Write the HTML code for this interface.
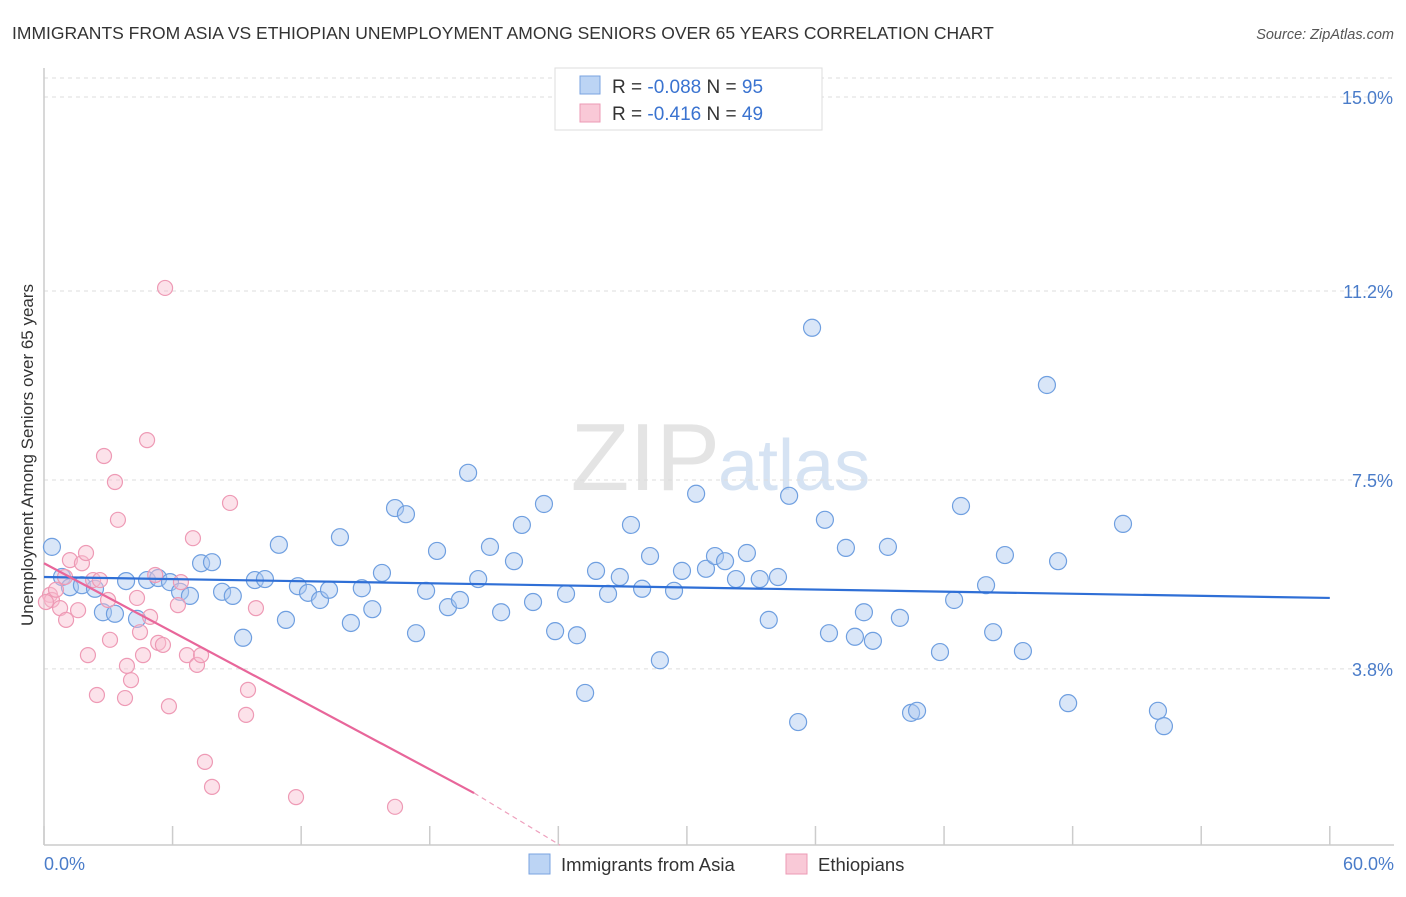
<!DOCTYPE html>
<html><head><meta charset="utf-8"><style>
body{margin:0;background:#fff;font-family:"Liberation Sans",sans-serif;}
svg text{font-family:"Liberation Sans",sans-serif;}
</style></head><body>
<svg id="chart" width="1406" height="892" viewBox="0 0 1406 892">
<text x="12" y="39" font-size="17.5" fill="#333">IMMIGRANTS FROM ASIA VS ETHIOPIAN UNEMPLOYMENT AMONG SENIORS OVER 65 YEARS CORRELATION CHART</text>
<text x="1394" y="39" font-size="14.5" fill="#555" font-style="italic" text-anchor="end">Source: ZipAtlas.com</text>
<text x="720" y="490" font-size="96" fill="#e4e4e4" text-anchor="end" font-family="Liberation Serif">ZIP</text>
<text x="718" y="490" font-size="72" fill="#d6e3f3">atlas</text>
<g id="grid"></g><g id="axes"></g><g id="pts"></g><g id="trend"></g>
<text transform="translate(33,455) rotate(-90)" font-size="17" fill="#333" text-anchor="middle">Unemployment Among Seniors over 65 years</text>
<text x="44" y="870" font-size="18" fill="#4a7cc9">0.0%</text>
<text x="1394" y="870" font-size="18" fill="#4a7cc9" text-anchor="end">60.0%</text>
<g>
<rect x="555" y="68" width="267" height="62" fill="#fff" stroke="#ddd"/>
<rect x="580" y="76" width="20" height="18" fill="#bcd4f4" stroke="#7aa3e0"/>
<rect x="580" y="104" width="20" height="18" fill="#f9c9d7" stroke="#ec9ab4"/>
<text x="612" y="93" font-size="19" fill="#333">R = <tspan fill="#3a73d0">-0.088</tspan>   N = <tspan fill="#3a73d0">95</tspan></text>
<text x="612" y="120" font-size="19" fill="#333">R =  <tspan fill="#3a73d0">-0.416</tspan>   N = <tspan fill="#3a73d0">49</tspan></text>
</g>
<g>
<rect x="529" y="854" width="21" height="20" fill="#bcd4f4" stroke="#7aa3e0"/>
<text x="561" y="871" font-size="18.5" fill="#333">Immigrants from Asia</text>
<rect x="786" y="854" width="21" height="20" fill="#f9c9d7" stroke="#ec9ab4"/>
<text x="818" y="871" font-size="18.5" fill="#333">Ethiopians</text>
</g>
</svg>
<script>
const yTicks=[15.0,11.2,7.5,3.8];
const yTickLabels=["15.0%","11.2%","7.5%","3.8%"];
const xTicks=[0,6,12,18,24,30,36,42,48,54,60];
const asiaX=[0.37,0.84,1.21,1.77,2.38,2.75,3.31,3.83,4.34,4.81,5.33,5.88,6.35,6.81,7.33,7.84,8.31,8.81,9.29,9.84,10.31,10.96,11.29,11.85,12.32,12.88,13.30,13.81,14.32,14.83,15.32,15.77,16.38,16.89,17.36,17.83,18.34,18.85,19.41,19.79,20.26,20.81,21.33,21.93,22.30,22.82,23.33,23.85,24.36,24.87,25.25,25.76,26.32,26.87,27.39,27.91,28.28,28.74,29.40,29.77,30.43,30.89,31.31,31.78,32.29,32.80,33.40,33.82,34.25,34.77,35.19,35.84,36.44,36.63,37.42,37.84,38.26,38.68,39.38,39.94,40.46,40.74,41.81,42.47,42.79,43.96,44.29,44.84,45.68,46.80,47.32,47.79,50.35,51.98,52.26];
const asiaY=[6.19,5.60,5.40,5.44,5.37,4.91,4.88,5.52,4.78,5.54,5.58,5.50,5.31,5.23,5.87,5.89,5.31,5.23,4.41,5.54,5.56,6.23,4.76,5.42,5.29,5.15,5.35,6.38,4.70,5.38,4.97,5.68,6.95,6.83,4.50,5.33,6.11,5.01,5.15,7.64,5.56,6.19,4.91,5.91,6.62,5.11,7.03,4.54,5.27,4.46,3.33,5.72,5.27,5.60,6.62,5.37,6.01,3.97,5.33,5.72,7.23,5.76,6.01,5.91,5.56,6.07,5.56,4.76,5.60,7.19,2.76,10.48,6.72,4.50,6.17,4.43,4.91,4.35,6.19,4.80,2.94,2.98,4.13,5.15,6.99,5.44,4.52,6.03,4.15,9.36,5.91,3.13,6.64,2.98,2.68];
const ethX=[0.28,0.37,0.56,0.75,0.98,1.21,1.03,1.59,1.77,1.96,2.05,2.29,2.47,2.80,2.99,3.08,3.31,3.45,3.78,3.87,4.06,4.34,4.48,4.62,4.81,4.95,5.19,5.33,5.83,5.65,6.25,6.39,6.67,6.95,7.14,7.33,7.51,7.84,8.68,9.43,9.52,9.89,11.76,16.38,0.09,2.61,5.55];
const ethY=[5.25,5.15,5.35,4.99,5.60,5.93,4.76,4.95,5.87,6.07,4.07,5.54,3.29,7.97,5.15,4.37,7.46,6.72,3.23,3.86,3.58,5.19,4.52,4.07,8.28,4.82,5.64,4.31,3.07,11.26,5.05,5.50,4.07,6.36,3.88,4.07,1.98,1.49,7.05,2.90,3.39,4.99,1.29,1.10,5.11,5.54,4.27];
const asiaTrend=[[0,5.60],[60,5.19]];
const ethTrend=[[0,5.87],[20.07,1.37]];
const ethTrendExt=[[20.07,1.37],[24.08,0.35]];
const X=v=>44+v*21.43, Y=v=>863-v*51.07;
const NS="http://www.w3.org/2000/svg";
function mk(tag,attrs,parent){const e=document.createElementNS(NS,tag);for(const k in attrs)e.setAttribute(k,attrs[k]);document.getElementById(parent).appendChild(e);return e;}
let g=mk('line',{x1:44,x2:1394,y1:78,y2:78,stroke:'#ddd','stroke-dasharray':'4,4'},'grid');


yTicks.forEach((t,i)=>{
 const l=mk('line',{x1:44,x2:1394,y1:Y(t),y2:Y(t),stroke:'#ddd','stroke-dasharray':'4,4'},'grid');
 
 
 const tx=mk('text',{x:1393,y:Y(t)+7,'font-size':18,fill:'#4a7cc9','text-anchor':'end'},'grid');tx.textContent=yTickLabels[i];
 
 
});
let ax=mk('line',{x1:44,x2:1394,y1:845,y2:845,stroke:'#ccc','stroke-width':1.5},'axes');


let ay=mk('line',{x1:44,x2:44,y1:68,y2:845,stroke:'#ccc','stroke-width':1.5},'axes');


xTicks.forEach(t=>{const l=mk('line',{x1:X(t),x2:X(t),y1:826,y2:845,stroke:'#ccc','stroke-width':1.5},'axes');
 
 });
asiaX.forEach((v,i)=>{const c=mk('circle',{cx:X(v),cy:Y(asiaY[i]),r:8.5,fill:'rgba(170,200,240,0.45)',stroke:'#6f9fe0','stroke-width':1.2},'pts');
 
 });
ethX.forEach((v,i)=>{const c=mk('circle',{cx:X(v),cy:Y(ethY[i]),r:7.5,fill:'rgba(248,190,208,0.45)',stroke:'#ee9ab5','stroke-width':1.2},'pts');
 
 });
let t1=mk('line',{x1:X(asiaTrend[0][0]),y1:Y(asiaTrend[0][1]),x2:X(asiaTrend[1][0]),y2:Y(asiaTrend[1][1]),stroke:'#2f6fd6','stroke-width':2.2},'trend');


let t2=mk('line',{x1:X(ethTrend[0][0]),y1:Y(ethTrend[0][1]),x2:X(ethTrend[1][0]),y2:Y(ethTrend[1][1]),stroke:'#e8669a','stroke-width':2.2},'trend');


let t3=mk('line',{x1:X(ethTrendExt[0][0]),y1:Y(ethTrendExt[0][1]),x2:X(ethTrendExt[1][0]),y2:Y(ethTrendExt[1][1]),stroke:'#eea0bd','stroke-width':1.2,'stroke-dasharray':'5,4'},'trend');


</script>
</body></html>
